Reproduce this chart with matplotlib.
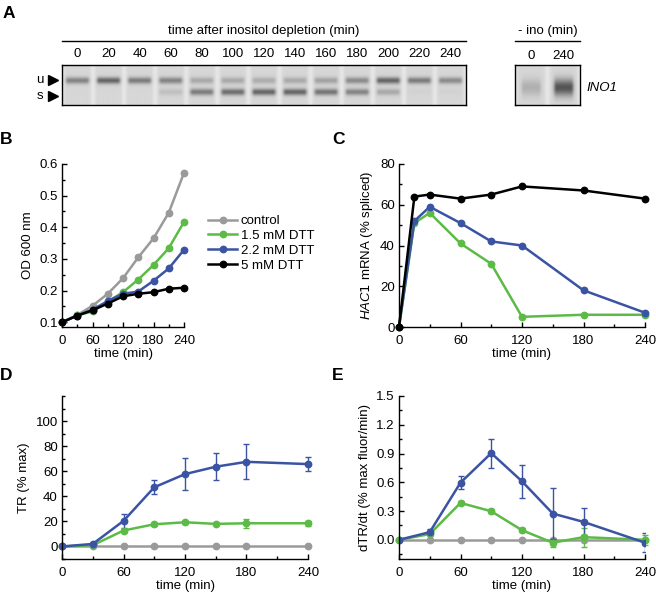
import numpy as np
import matplotlib
matplotlib.use("Agg")
import matplotlib.pyplot as plt
from matplotlib.ticker import MultipleLocator

plt.rcParams['font.family'] = ['Liberation Sans', 'DejaVu Sans']
plt.rcParams['font.size'] = 9.5
plt.rcParams['mathtext.fontset'] = 'custom'
plt.rcParams['mathtext.it'] = 'Liberation Sans:italic'

W, H = 656, 599

grey = '#9a9a9a'
green = '#5cbb47'
blue = '#3a54a3'
black = '#000000'

# panel A: gel lanes
lane_labels = ['0', '20', '40', '60', '80', '100', '120', '140', '160', '180', '200', '220', '240']
u_band = [0.55, 0.75, 0.6, 0.55, 0.3, 0.3, 0.28, 0.3, 0.35, 0.5, 0.75, 0.6, 0.5]
s_band = [0.0, 0.0, 0.0, 0.15, 0.6, 0.7, 0.75, 0.75, 0.65, 0.55, 0.3, 0.03, 0.03]
ino_labels = ['0', '240']
ino_band = [0.25, 0.85]

# panel B: growth
t_b = [0, 30, 60, 90, 120, 150, 180, 210, 240]
od_control = [0.10, 0.123, 0.152, 0.19, 0.239, 0.305, 0.365, 0.446, 0.572]
od_dtt15 = [0.10, 0.122, 0.134, 0.165, 0.195, 0.235, 0.281, 0.334, 0.417]
od_dtt22 = [0.10, 0.121, 0.14, 0.167, 0.19, 0.197, 0.231, 0.27, 0.329]
od_dtt5 = [0.10, 0.121, 0.138, 0.159, 0.182, 0.19, 0.195, 0.206, 0.209]
legend_labels = ['control', '1.5 mM DTT', '2.2 mM DTT', '5 mM DTT']

# panel C: HAC1 splicing
t_c = [0, 15, 30, 60, 90, 120, 180, 240]
spl_dtt15 = [0, 51, 56, 41, 31, 5, 6, 6]
spl_dtt22 = [0, 52, 59, 51, 42, 40, 18, 7]
spl_dtt5 = [0, 64, 65, 63, 65, 69, 67, 63]

# panel D: TR
t_d = [0, 30, 60, 90, 120, 150, 180, 240]
tr_control = [0, 0, 0, 0, 0, 0, 0, 0]
tr_dtt15 = [0, 1, 12.7, 17.7, 19.3, 18, 18.5, 18.5]
tr_dtt15_err = [0, 0.5, 1, 1, 1, 1, 3.6, 2]
tr_dtt22 = [0, 2, 20.4, 47.2, 57.7, 63.6, 67.5, 65.7]
tr_dtt22_err = [0, 0.5, 5.5, 5.7, 12.6, 10.9, 14, 5.7]

# panel E: dTR/dt
dtr_control = [0, 0, 0, 0, 0, 0, 0, 0]
dtr_dtt15 = [0, 0.06, 0.385, 0.298, 0.1, -0.03, 0.028, 0.0]
dtr_dtt15_err = [0, 0.01, 0.015, 0.02, 0.02, 0.04, 0.1, 0.05]
dtr_dtt22 = [0, 0.08, 0.596, 0.904, 0.61, 0.274, 0.187, -0.03]
dtr_dtt22_err = [0, 0.03, 0.065, 0.15, 0.17, 0.27, 0.14, 0.1]


def px_axes(fig, x0, y0, x1, y1):
    # pixel box (top-left origin) -> figure axes
    return fig.add_axes([x0 / W, 1 - y1 / H, (x1 - x0) / W, (y1 - y0) / H])


def style(ax, xmaj, xmin, ymaj, ymin):
    for s in ['top', 'right']:
        ax.spines[s].set_visible(False)
    for s in ['left', 'bottom']:
        ax.spines[s].set_linewidth(1.0)
    ax.xaxis.set_major_locator(MultipleLocator(xmaj))
    ax.xaxis.set_minor_locator(MultipleLocator(xmin))
    ax.yaxis.set_minor_locator(MultipleLocator(ymin))
    ax.tick_params(which='both', direction='in', width=1.0)
    ax.tick_params(which='major', length=3.5, labelsize=9.5)
    ax.tick_params(axis='x', which='major', pad=5.5)
    ax.tick_params(axis='y', which='major', pad=3)
    ax.tick_params(which='minor', length=2)
    ax.set_xlabel('time (min)', labelpad=1)


def gel_image(bands_top, bands_bot, lane_w, rows, top_c, bot_c, sig, hw, gap_w):
    n = len(bands_top)
    img = np.full((rows, n * lane_w), 0.84)
    r = np.arange(rows)[:, None]
    c = np.arange(lane_w)
    mid = (lane_w - 1) / 2
    hprof = np.exp(-0.5 * (np.maximum(np.abs(c - mid) - hw, 0) / 2.0) ** 2)
    gap = np.exp(-0.5 * (np.minimum(c, lane_w - 1 - c) / gap_w) ** 2)
    for i in range(n):
        dark = bands_top[i] * np.exp(-0.5 * ((r - top_c) / sig) ** 2)
        if bands_bot is not None:
            dark = dark + bands_bot[i] * np.exp(-0.5 * ((r - bot_c) / sig) ** 2)
        sl = slice(i * lane_w, (i + 1) * lane_w)
        img[:, sl] = img[:, sl] - 0.6 * dark * hprof + 0.06 * gap
    return np.clip(img, 0, 1)


fig = plt.figure(figsize=(W / 100, H / 100), dpi=100)

# overlay for free text and lines in pixel coords
ov = fig.add_axes([0, 0, 1, 1])
ov.set_xlim(0, W)
ov.set_ylim(H, 0)
ov.axis('off')

# ---- panel A ----
gx0, gx1, gy0, gy1 = 62, 466, 65, 105
gax = px_axes(fig, gx0, gy0, gx1, gy1)
gax.imshow(gel_image(u_band, s_band, 31, 40, 15, 26.5, 2.3, 9, 1.5),
           cmap='gray', vmin=0, vmax=1, aspect='auto', interpolation='bicubic')
gax.set_xticks([])
gax.set_yticks([])
for s in gax.spines.values():
    s.set_linewidth(1.0)

ix0, ix1 = 515, 580
iax = px_axes(fig, ix0, gy0, ix1, gy1)
iax.imshow(gel_image(ino_band, None, 32, 40, 22, 0, 6, 7, 1.5),
           cmap='gray', vmin=0, vmax=1, aspect='auto', interpolation='bicubic')
iax.set_xticks([])
iax.set_yticks([])
for s in iax.spines.values():
    s.set_linewidth(1.0)

ov.text((gx0 + gx1) / 2, 31, 'time after inositol depletion (min)', ha='center', va='center', fontsize=9.5)
ov.plot([gx0, gx1], [41, 41], color='black', lw=1.0)
lane_step = (gx1 - gx0) / len(lane_labels)
for i, lab in enumerate(lane_labels):
    ov.text(gx0 + lane_step * (i + 0.5), 54, lab, ha='center', va='center', fontsize=9.5)
ov.text((ix0 + ix1) / 2, 31, '- ino (min)', ha='center', va='center', fontsize=9.5)
ov.plot([ix0, ix1], [41, 41], color='black', lw=1.0)
ino_step = (ix1 - ix0) / len(ino_labels)
for i, lab in enumerate(ino_labels):
    ov.text(ix0 + ino_step * (i + 0.5), 56, lab, ha='center', va='center', fontsize=9.5)
ov.text(586, 88, 'INO1', ha='left', va='center', fontsize=9.5, style='italic')
ov.text(40, 80, 'u', ha='center', va='center', fontsize=9.5)
ov.text(40, 96, 's', ha='center', va='center', fontsize=9.5)
ov.plot([53, 53], [80, 96], ls='none', marker='>', color='black', markersize=7)

# panel letters
for lab, x, y in [('A', 3, 13), ('B', 0, 139), ('C', 332, 139), ('D', 0, 376), ('E', 332, 376)]:
    ov.text(x, y, lab, ha='left', va='center', fontsize=12.5, fontweight='bold')

lw = 1.8
ms = 4.6

# ---- panel B ----
axb = px_axes(fig, 62, 164, 184, 327)
for y, c, lab in [(od_control, grey, legend_labels[0]), (od_dtt15, green, legend_labels[1]),
                  (od_dtt22, blue, legend_labels[2]), (od_dtt5, black, legend_labels[3])]:
    axb.plot(t_b, y, color=c, lw=lw, marker='o', ms=ms, label=lab, clip_on=False)
axb.set_xlim(0, 240)
axb.set_ylim(0.085, 0.6)
axb.set_yticks([0.1, 0.2, 0.3, 0.4, 0.5, 0.6])
style(axb, 60, 30, 0.1, 0.05)
axb.set_ylabel('OD 600 nm', labelpad=4)
fig.legend(*axb.get_legend_handles_labels(), loc='upper left',
           bbox_to_anchor=(208 / W, 1 - 215 / H), frameon=False, borderpad=0,
           borderaxespad=0, handlelength=2.2, handletextpad=0.3, labelspacing=0.2,
           fontsize=9.5)

# ---- panel C ----
axc = px_axes(fig, 399, 164, 645, 327)
for y, c in [(spl_dtt15, green), (spl_dtt22, blue), (spl_dtt5, black)]:
    axc.plot(t_c, y, color=c, lw=lw, marker='o', ms=ms, clip_on=False)
axc.set_xlim(0, 240)
axc.set_ylim(0, 80)
axc.set_yticks([0, 20, 40, 60, 80])
style(axc, 60, 30, 20, 10)
axc.set_ylabel(r'$\it{HAC1}$ mRNA (% spliced)', labelpad=4)

# ---- panel D ----
axd = px_axes(fig, 62, 396, 308, 559)
axd.plot(t_d, tr_control, color=grey, lw=lw, marker='o', ms=ms, clip_on=False)
axd.errorbar(t_d, tr_dtt15, yerr=tr_dtt15_err, color=green, lw=lw, marker='o', ms=ms,
             elinewidth=1.0, capsize=2.5, capthick=1.0, clip_on=False)
axd.errorbar(t_d, tr_dtt22, yerr=tr_dtt22_err, color=blue, lw=lw, marker='o', ms=ms,
             elinewidth=1.0, capsize=2.5, capthick=1.0, clip_on=False)
axd.set_xlim(0, 240)
axd.set_ylim(-10, 120)
axd.set_yticks([0, 20, 40, 60, 80, 100])
style(axd, 60, 30, 20, 10)
axd.set_ylabel('TR (% max)', labelpad=4)

# ---- panel E ----
axe = px_axes(fig, 399, 396, 645, 559)
axe.plot(t_d, dtr_control, color=grey, lw=lw, marker='o', ms=ms, clip_on=False)
axe.errorbar(t_d, dtr_dtt15, yerr=dtr_dtt15_err, color=green, lw=lw, marker='o', ms=ms,
             elinewidth=1.0, capsize=2.5, capthick=1.0, clip_on=False)
axe.errorbar(t_d, dtr_dtt22, yerr=dtr_dtt22_err, color=blue, lw=lw, marker='o', ms=ms,
             elinewidth=1.0, capsize=2.5, capthick=1.0)
axe.set_xlim(0, 240)
axe.set_ylim(-0.2, 1.5)
axe.set_yticks([0.0, 0.3, 0.6, 0.9, 1.2, 1.5])
axe.set_yticklabels(['0.0', '0.3', '0.6', '0.9', '1.2', '1.5'])
style(axe, 60, 30, 0.3, 0.15)
axe.set_ylabel('dTR/dt (% max fluor/min)', labelpad=4)

fig.savefig('out.png', dpi=100)
